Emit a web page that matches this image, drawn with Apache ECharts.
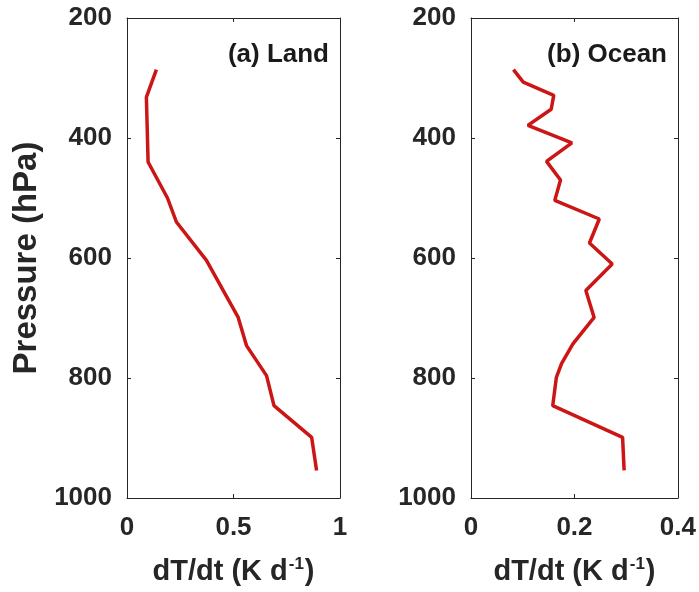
<!DOCTYPE html>
<html>
<head>
<meta charset="utf-8">
<script src="https://cdn.jsdelivr.net/npm/echarts@6/dist/echarts.min.js"></script>
<style>
html,body{margin:0;padding:0;background:#fff;}
#chart{width:699px;height:592px;}
</style>
</head>
<body>
<div id="chart"></div>
<script>
// Land profile: pressure (hPa) and dT/dt (K/day)
const landPressure = [286, 332, 440, 500, 540, 604, 699, 746, 796, 846, 899, 954];
const landValue    = [0.138, 0.091, 0.099, 0.19, 0.232, 0.373, 0.522, 0.561, 0.655, 0.69, 0.867, 0.89];
// Ocean profile
const oceanPressure = [286, 307, 329, 352, 379, 408, 439, 470, 504, 535, 575, 610, 654, 699, 743, 776, 799, 846, 899, 954];
const oceanValue    = [0.082, 0.101, 0.160, 0.155, 0.110, 0.195, 0.146, 0.173, 0.162, 0.248, 0.229, 0.273, 0.222, 0.238, 0.197, 0.175, 0.165, 0.158, 0.293, 0.296];
const pressureTicks = [200, 400, 600, 800, 1000];
const panelTitles = ['(a) Land', '(b) Ocean'];
const xMaxes = [1, 0.4];
const xIntervals = [0.5, 0.2];
const yName = 'Pressure (hPa)';

const FONT = 'Liberation Sans, Arial, sans-serif';
const TXT = '#262626';
const lineCol = '#262626';

function pairs(ps, vs){ return ps.map((p,i)=>[vs[i], p]); }

const grids = [
  {left:127, top:18, width:213, height:480},
  {left:471, top:18, width:208, height:480}
];

const xAxes = [], yAxes = [];
grids.forEach((g, i) => {
  xAxes.push({
    gridIndex:i, type:'value', min:0, max:xMaxes[i], interval:xIntervals[i], position:'bottom',
    axisLine:{show:true, lineStyle:{color:lineCol, width:1}},
    axisTick:{show:true, inside:true, length:4, lineStyle:{color:lineCol}},
    axisLabel:{fontFamily:FONT, fontSize:26, fontWeight:'bold', color:TXT, margin:17,
      formatter: v => String(v)},
    splitLine:{show:false},
    name:'{m|dT/dt (K d}{s|-1}{m|)}', nameLocation:'middle', nameGap:58,
    nameTextStyle:{
      rich:{
        m:{fontFamily:FONT, fontSize:29, fontWeight:'bold', color:TXT, lineHeight:32},
        s:{fontFamily:FONT, fontSize:17, fontWeight:'bold', color:TXT, verticalAlign:'top', lineHeight:32, padding:[0,1,14,1]}
      }
    }
  });
  xAxes.push({
    gridIndex:i, type:'value', min:0, max:xMaxes[i], interval:xIntervals[i], position:'top',
    axisLine:{show:true, lineStyle:{color:lineCol, width:1}},
    axisTick:{show:true, inside:true, length:4, lineStyle:{color:lineCol}},
    axisLabel:{show:false}, splitLine:{show:false}
  });
  yAxes.push({
    gridIndex:i, type:'value', min:200, max:1000, interval:200, inverse:true, position:'left',
    axisLine:{show:true, onZero:false, lineStyle:{color:lineCol, width:1}},
    axisTick:{show:true, inside:true, length:4, lineStyle:{color:lineCol}},
    axisLabel:{fontFamily:FONT, fontSize:26, fontWeight:'bold', color:TXT, margin:15,
      formatter: v => String(v)},
    splitLine:{show:false},
    name: i === 0 ? yName : '', nameLocation:'middle', nameGap:84,
    nameTextStyle:{fontFamily:FONT, fontSize:33, fontWeight:'bold', color:TXT}
  });
  yAxes.push({
    gridIndex:i, type:'value', min:200, max:1000, interval:200, inverse:true, position:'right',
    axisLine:{show:true, onZero:false, lineStyle:{color:lineCol, width:1}},
    axisTick:{show:true, inside:true, length:4, lineStyle:{color:lineCol}},
    axisLabel:{show:false}, splitLine:{show:false}
  });
});

const chart = echarts.init(document.getElementById('chart'), null, {renderer:'canvas'});
chart.setOption({
  animation:false,
  backgroundColor:'#fff',
  title:[
    {text:panelTitles[0], right:365, top:37, textStyle:{fontFamily:FONT, fontSize:26, fontWeight:'bold', color:'#1a1a1a'}},
    {text:panelTitles[1], right:27, top:37, textStyle:{fontFamily:FONT, fontSize:26, fontWeight:'bold', color:'#1a1a1a'}}
  ],
  grid:grids,
  xAxis:xAxes,
  yAxis:yAxes,
  series:[
    {type:'line', xAxisIndex:0, yAxisIndex:0, data:pairs(landPressure, landValue), showSymbol:false,
      lineStyle:{color:'#cc1515', width:3.5}, clip:false},
    {type:'line', xAxisIndex:2, yAxisIndex:2, data:pairs(oceanPressure, oceanValue), showSymbol:false,
      lineStyle:{color:'#cc1515', width:3.5}, clip:false}
  ]
});
</script>
</body>
</html>
